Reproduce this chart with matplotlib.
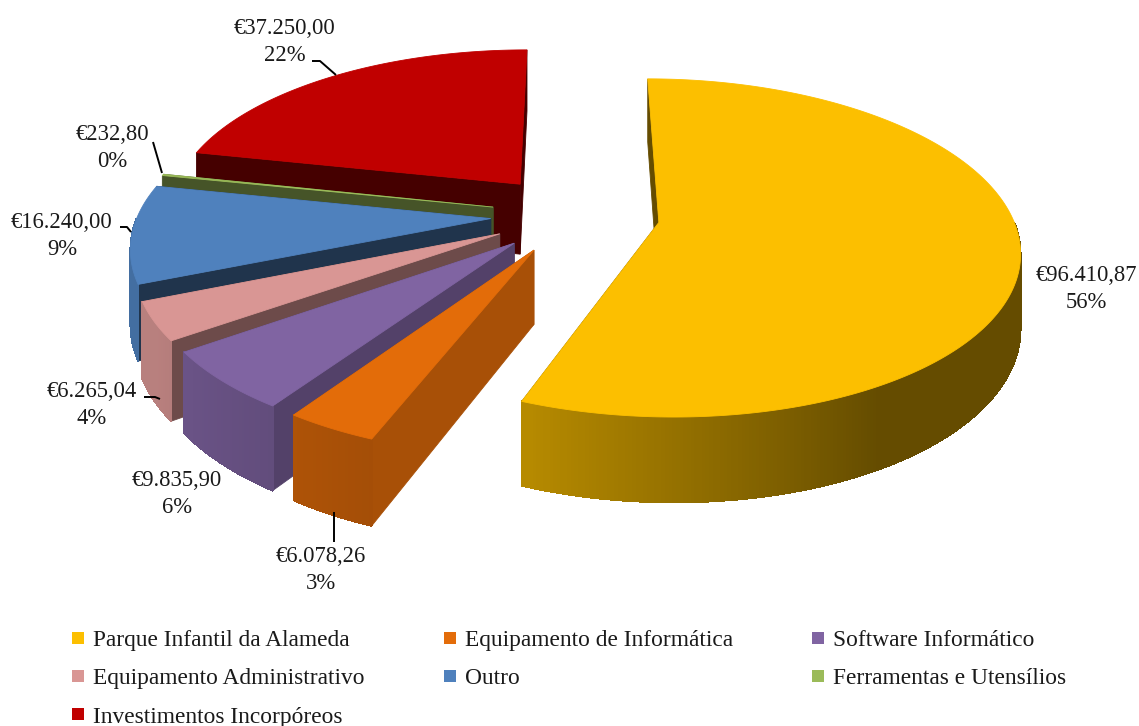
import numpy as np
import matplotlib
matplotlib.use('Agg')
import matplotlib.pyplot as plt
from matplotlib.lines import Line2D
from matplotlib.patches import Polygon

categories = ['Parque Infantil da Alameda', 'Equipamento de Informática', 'Software Informático',
              'Equipamento Administrativo', 'Outro', 'Ferramentas e Utensílios', 'Investimentos Incorpóreos']
values = [96410.87, 6078.26, 9835.90, 6265.04, 16240.00, 232.80, 37250.00]
percents = [56, 3, 6, 4, 9, 0, 22]
colors = ['#FCBF00', '#E36C09', '#8064A2', '#D99694', '#4F81BD', '#9BBB59', '#C00000']
radial_shade = [0.40, 0.74, 0.65, 0.50, 0.40, 0.45, 0.36]
explode = [0.243, 0.236, 0.236, 0.236, 0.236, 0.236, 0.25]

# label centre and leader line, in pixels
label_pos = [(1086, 289), (321, 570), (177, 494), (92, 405), (62, 236), (112, 148), (285, 42)]
leaders = [None,
           [(334, 512), (334, 542)],
           None,
           [(144, 397), (155, 397), (160, 399)],
           [(120, 227), (127, 227), (131, 232)],
           [(153, 142), (162, 173)],
           [(312, 61), (320, 61), (336, 75)]]

# fake 3d camera, fitted to the picture
CX, CY = 574, 215
RX, RY = 353, 163
PERSP = 0.15
HEIGHT = 72
START = 0.0

plt.rcParams['font.family'] = ['Liberation Serif', 'DejaVu Sans']


def project(x, y, z=0.0):
    s = 1 / (1 + PERSP * y)
    return CX + RX * x * s, CY - RY * y * s + HEIGHT * z * s


def shade(color, f):
    return tuple(c * f for c in matplotlib.colors.to_rgb(color))


def wall_light(a):
    return np.interp(a % 360, [0, 150, 200, 240, 360], [0.40, 0.40, 0.72, 0.85, 0.85])


def euro(v):
    txt = f'{v:,.2f}'.replace(',', ' ').replace('.', ',').replace(' ', '.')
    return '€' + txt


def quad(ax, pts, color, z, aa=True):
    ax.add_patch(Polygon(pts, closed=True, facecolor=color, edgecolor=color, lw=0.6,
                         zorder=z, antialiased=aa))


fig = plt.figure(figsize=(11.39, 7.26), dpi=100)
ax = fig.add_axes([0, 0, 1, 1])
ax.set_xlim(0, 1139)
ax.set_ylim(726, 0)
ax.axis('off')

total = sum(values)
edges = START + np.cumsum([0] + values) / total * 360
# back to front
order = [6, 5, 4, 3, 2, 1, 0]
for rank, i in enumerate(order):
    a0, a1 = edges[i], edges[i + 1]
    mid = np.radians((a0 + a1) / 2)
    ox, oy = explode[i] * np.sin(mid), explode[i] * np.cos(mid)
    aa = np.linspace(a0, a1, max(3, int((a1 - a0) * 2)))
    xs = ox + np.sin(np.radians(aa))
    ys = oy + np.cos(np.radians(aa))
    base = 10 + rank * 10

    # radial walls
    for ex, ey in ((xs[0], ys[0]), (xs[-1], ys[-1])):
        pts = [project(ox, oy), project(ex, ey), project(ex, ey, 1), project(ox, oy, 1)]
        quad(ax, pts, shade(colors[i], radial_shade[i]), base)
    # outer wall, lit by angle, back side skipped
    for j in range(len(aa) - 1):
        am = (aa[j] + aa[j + 1]) / 2
        if np.cos(np.radians(am)) > 0.0:
            continue
        pts = [project(xs[j], ys[j]), project(xs[j + 1], ys[j + 1]),
               project(xs[j + 1], ys[j + 1], 1), project(xs[j], ys[j], 1)]
        quad(ax, pts, shade(colors[i], wall_light(am)), base + 1, aa=False)
    # top face
    top = [project(ox, oy)] + [project(x, y) for x, y in zip(xs, ys)]
    quad(ax, top, colors[i], base + 2)

for i, v in enumerate(values):
    lx, ly = label_pos[i]
    ax.text(lx, ly, f'{euro(v)}\n{percents[i]}%', ha='center', va='center',
            fontsize=16.3, color='#1a1a1a', linespacing=1.42, zorder=100)
    if leaders[i]:
        ax.plot(*zip(*leaders[i]), color='black', lw=1.4, zorder=99, solid_capstyle='butt')

handles = [Line2D([], [], ls='none', marker='s', ms=8.8, mew=0, color=c) for c in colors]
# legend reads row by row, matplotlib fills columns
leg_order = [0, 3, 6, 1, 4, 2, 5]
ax.legend([handles[i] for i in leg_order], [categories[i] for i in leg_order], ncol=3,
          loc='upper left', bbox_to_anchor=(50 / 1139, 1 - 609 / 726), frameon=False,
          fontsize=16.8, handlelength=0.6, handletextpad=0.35, labelspacing=0.72,
          columnspacing=3.35, labelcolor='#1a1a1a')

fig.savefig('out.png', dpi=100)
